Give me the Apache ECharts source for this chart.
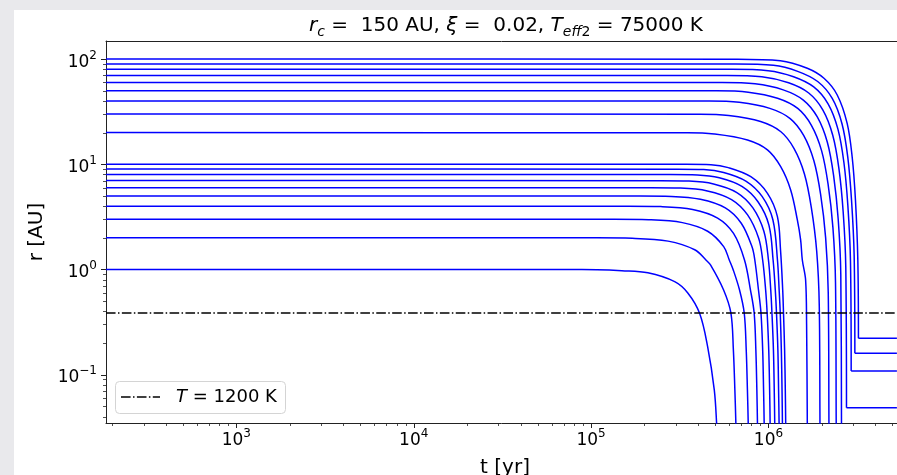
<!DOCTYPE html>
<html><head><meta charset="utf-8">
<script src="https://cdn.jsdelivr.net/npm/echarts@6/dist/echarts.min.js"></script>
<style>html,body{margin:0;padding:0;background:#e9e9ec}#c{width:897px;height:475px}</style>
</head><body><div id="c"></div>
<script>
// ---- data: r [AU] vs t [yr], one track per initial radius ----
const initialRadii = [1,2,3,4,5,6,7,8,9,10,20,30,40,50,60,70,80,90,100];
const curveR1 = [[184,1],[7.3e4,0.998],[1.08e5,0.995],[1.49e5,0.975],[2.09e5,0.93],[2.96e5,0.766],[3.51e5,0.598],[4.09e5,0.383],[4.54e5,0.185],[4.95e5,0.0716],[5.10e5,0.0348],[5.13e5,0.025]];
const curveR2 = [[184,2],[1.07e5,1.998],[1.706e5,1.98],[2.718e5,1.86],[3.839e5,1.54],[4.443e5,1.231],[4.722e5,1.10],[5.587e5,0.638],[6.14e5,0.386],[6.342e5,0.172],[6.466e5,0.0715],[6.55e5,0.0347],[6.57e5,0.025]];
const curveR3 = [[184,3],[1.341e5,2.997],[2.109e5,2.97],[3.274e5,2.79],[4.542e5,2.31],[5.593e5,1.65],[6.014e5,1.231],[6.333e5,0.99],[6.871e5,0.638],[7.302e5,0.386],[7.494e5,0.172],[7.611e5,0.0715],[7.69e5,0.0347],[7.71e5,0.025]];
const curveR4 = [[184,4],[1.613e5,3.996],[2.472e5,3.96],[3.739e5,3.72],[5.168e5,3.08],[6.356e5,2.2],[7.328e5,1.231],[7.919e5,0.638],[8.307e5,0.386],[8.492e5,0.172],[8.603e5,0.0715],[8.67e5,0.0347],[8.69e5,0.025]];
const curveR5 = [[184,5],[1.878e5,4.995],[2.841e5,4.95],[4.134e5,4.65],[5.712e5,3.85],[7.025e5,2.75],[8.069e5,1.65],[8.377e5,1.231],[8.787e5,0.638],[9.076e5,0.386],[9.278e5,0.172],[9.387e5,0.0715],[9.46e5,0.0347],[9.48e5,0.025]];
const curveR6 = [[184,6],[2.164e5,5.994],[3.191e5,5.94],[4.524e5,5.58],[6.194e5,4.62],[7.629e5,3.3],[8.808e5,1.98],[9.276e5,1.231],[9.642e5,0.638],[9.831e5,0.386],[1.0037e6,0.172],[1.0155e6,0.0715],[1.022e6,0.0347],[1.024e6,0.025]];
const curveR7 = [[184,7],[2.451e5,6.993],[3.566e5,6.93],[4.903e5,6.51],[6.636e5,5.39],[8.173e5,3.85],[9.423e5,2.31],[1.0001e6,1.231],[1.0303e6,0.638],[1.0465e6,0.386],[1.0669e6,0.172],[1.0781e6,0.0715],[1.085e6,0.0347],[1.087e6,0.025]];
const curveR8 = [[184,8],[2.767e5,7.992],[3.974e5,7.92],[5.283e5,7.44],[7.085e5,6.16],[8.728e5,4.4],[1.006e6,2.64],[1.0622e6,1.231],[1.0929e6,0.638],[1.110e6,0.386],[1.1303e6,0.172],[1.1407e6,0.0715],[1.148e6,0.0347],[1.150e6,0.025]];
const curveR9 = [[184,9],[3.083e5,8.991],[4.315e5,8.91],[5.59e5,8.37],[7.459e5,6.93],[9.207e5,4.95],[1.0591e6,2.97],[1.1239e6,1.231],[1.1489e6,0.638],[1.1653e6,0.386],[1.1821e6,0.172],[1.1928e6,0.0715],[1.199e6,0.0347],[1.201e6,0.025]];
const curveR10 = [[184,10],[3.431e5,9.99],[4.741e5,9.9],[5.939e5,9.3],[7.955e5,7.62],[9.873e5,5.30],[1.1235e6,3.18],[1.1697e6,1.53],[1.2033e6,0.638],[1.2158e6,0.386],[1.2334e6,0.172],[1.2445e6,0.0715],[1.251e6,0.0347],[1.253e6,0.025]];
const curveR20 = [[184,20],[3.506e5,19.97],[4.953e5,19.4],[7.621e5,17.0],[9.871e5,13.7],[1.1723e6,9.49],[1.3344e6,5.70],[1.4551e6,2.96],[1.5186e6,1.91],[1.5523e6,1.231],[1.620e6,0.795],[1.641e6,0.3],[1.656e6,0.0347],[1.658e6,0.025]];
const curveR30 = [[184,30],[4.132e5,29.97],[5.969e5,29.1],[9.03e5,25.5],[1.1755e6,20.4],[1.3947e6,14.1],[1.5954e6,8.1],[1.7441e6,3.9],[1.8704e6,1.5],[1.9344e6,0.45],[1.952e6,0.0347],[1.954e6,0.025]];
const curveR40 = [[184,40],[4.643e5,39.96],[6.847e5,38.8],[1.0184e6,34],[1.3259e6,27.2],[1.5792e6,18.8],[1.8037e6,10.8],[1.9673e6,5.2],[2.1013e6,2.0],[2.1733e6,0.6],[2.193e6,0.0347],[2.195e6,0.025]];
const curveR50 = [[184,50],[5.102e5,49.95],[7.69e5,48.5],[1.125e6,42.5],[1.4626e6,34],[1.7465e6,23.5],[1.9928e6,13.5],[2.1676e6,6.5],[2.3093e6,2.5],[2.3883e6,0.75],[2.410e6,0.0347],[2.412e6,0.025]];
const curveR60 = [[184,60],[5.464e5,59.94],[8.409e5,58.2],[1.211e6,51],[1.5726e6,40.8],[1.8852e6,28.2],[2.1479e6,16.2],[2.3304e6,7.8],[2.4731e6,3.0],[2.5578e6,0.9],[2.581e6,0.0347],[2.583e6,0.025]];
const curveR70 = [[184,70],[5.83e5,69.93],[9.174e5,67.9],[1.2991e6,59.5],[1.6868e6,47.6],[2.0245e6,32.9],[2.304e6,18.9],[2.4965e6,9.1],[2.6389e6,3.5],[2.7292e6,1.05],[2.754e6,0.0486],[5.3e6,0.0486]];
const curveR80 = [[184,80],[6.197e5,79.92],[9.964e5,77.6],[1.3859e6,68],[1.7998e6,54.4],[2.1686e6,37.6],[2.4642e6,21.6],[2.6633e6,10.4],[2.8047e6,4.0],[2.9007e6,1.2],[2.927e6,0.1084],[5.3e6,0.1084]];
const curveR90 = [[184,90],[6.499e5,89.91],[1.0668e6,87.3],[1.4613e6,76.5],[1.8948e6,61.2],[2.289e6,42.3],[2.5981e6,24.3],[2.8005e6,11.7],[2.9417e6,4.5],[3.0424e6,1.35],[3.07e6,0.1598],[5.3e6,0.1598]];
const curveR100 = [[184,100],[6.696e5,99.9],[1.168e6,96.6],[1.656e6,81.8],[2.056e6,65.7],[2.442e6,45.6],[2.778e6,24.5],[2.964e6,11.8],[3.094e6,4.58],[3.191e6,1.231],[3.216e6,0.222],[5.3e6,0.222]];
const tempLine = [[184,0.386],[5.3e6,0.386]];   // T = 1200 K
const xMajorTicks = [1e3,1e4,1e5,1e6];
const xMinorTicks = [200,300,400,500,600,700,800,900,2e3,3e3,4e3,5e3,6e3,7e3,8e3,9e3,2e4,3e4,4e4,5e4,6e4,7e4,8e4,9e4,2e5,3e5,4e5,5e5,6e5,7e5,8e5,9e5,2e6,3e6,4e6,5e6];
const yMajorTicks = [0.1,1,10,100];
const yMinorTicks = [0.04,0.05,0.06,0.07,0.08,0.09,0.2,0.3,0.4,0.5,0.6,0.7,0.8,0.9,2,3,4,5,6,7,8,9,20,30,40,50,60,70,80,90];
const xRange = [184.1, 5.306e6];
const yRange = [0.03473, 148.6];

const curves = [curveR1,curveR2,curveR3,curveR4,curveR5,curveR6,curveR7,curveR8,curveR9,curveR10,
  curveR20,curveR30,curveR40,curveR50,curveR60,curveR70,curveR80,curveR90,curveR100];

const FONT = 'DejaVu Sans';
const INK = '#222';
const BLUE = '#0000ff';
const DASHDOT = [9.6,2.4,1.5,2.4];

function tickSeries(values, axis, len, w) {
  return {
    type: 'custom', silent: true, clip: false, z: 6, animation: false,
    data: values.map(v => axis === 'x' ? [v, 1] : [1000, v]),
    encode: {x: 0, y: 1},
    renderItem: (params, api) => {
      const cs = params.coordSys;
      const p = api.coord([api.value(0), api.value(1)]);
      if (axis === 'x') {
        const x = Math.round(p[0]) + 0.5, y0 = cs.y + cs.height;
        return {type: 'line', shape: {x1: x, y1: y0, x2: x, y2: y0 + len}, style: {stroke: INK, lineWidth: w}};
      }
      const y = Math.round(p[1]) + 0.5, x0 = cs.x;
      return {type: 'line', shape: {x1: x0 - len, y1: y, x2: x0, y2: y}, style: {stroke: INK, lineWidth: w}};
    }
  };
}

function powLabel(v) {
  const e = Math.log10(v), n = Math.round(e);
  if (Math.abs(e - n) > 1e-6) return '';
  return '{b|10}{s|' + (n < 0 ? '\u2212' + (-n) : n) + '}';
}
const labelRich = {
  b: {fontSize: 17, fontFamily: FONT, color: '#000', verticalAlign: 'bottom', lineHeight: 20},
  s: {fontSize: 12, fontFamily: FONT, color: '#000', verticalAlign: 'bottom', lineHeight: 12, padding: [0,0,9,0]}
};

const series = [];
curves.forEach(c => {
  const n = c.length;
  const hasPlateau = c[n - 1][1] === c[n - 2][1];
  const main = hasPlateau ? c.slice(0, n - 1) : c;
  series.push({type: 'line', data: main, symbol: 'none', showSymbol: false, animation: false, z: 3,
    smooth: 0.35, lineStyle: {color: BLUE, width: 1.5}});
  if (hasPlateau) {
    series.push({type: 'line', data: c.slice(n - 2), symbol: 'none', showSymbol: false, animation: false, z: 3,
      lineStyle: {color: BLUE, width: 1.5}});
  }
});
series.push({type: 'line', data: tempLine, symbol: 'none', animation: false, z: 4,
  lineStyle: {color: '#000', width: 1.5, type: DASHDOT}});
series.push(tickSeries(xMajorTicks, 'x', 5, 1));
series.push(tickSeries(xMinorTicks, 'x', 3, 0.8));
series.push(tickSeries(yMajorTicks, 'y', 5, 1));
series.push(tickSeries(yMinorTicks, 'y', 3, 0.8));

const chart = echarts.init(document.getElementById('c'));
chart.setOption({
  backgroundColor: '#e9e9ec',
  animation: false,
  grid: {left: 106, top: 41, right: -3, bottom: 52, containLabel: false},
  xAxis: [{
    type: 'log', logBase: 10, min: xRange[0], max: xRange[1],
    axisLine: {show: true, onZero: false, lineStyle: {color: INK, width: 1}},
    axisTick: {show: false}, splitLine: {show: false}, minorTick: {show: false},
    axisLabel: {formatter: powLabel, rich: labelRich, margin: 6, showMinLabel: false, showMaxLabel: false}
  }, {
    type: 'log', logBase: 10, min: xRange[0], max: xRange[1], position: 'top',
    axisLine: {show: true, onZero: false, lineStyle: {color: INK, width: 1}},
    axisTick: {show: false}, axisLabel: {show: false}, splitLine: {show: false}
  }],
  yAxis: {
    type: 'log', logBase: 10, min: yRange[0], max: yRange[1],
    axisLine: {show: true, onZero: false, lineStyle: {color: INK, width: 1}},
    axisTick: {show: false}, splitLine: {show: false}, minorTick: {show: false},
    axisLabel: {formatter: powLabel, rich: labelRich, margin: 9, padding: [3,0,0,0], showMinLabel: false, showMaxLabel: false}
  },
  graphic: [
    {type: 'rect', z: -10, silent: true, shape: {x: 14, y: 10, width: 900, height: 480}, style: {fill: '#ffffff'}},
    {type: 'text', z: 50, x: 506, y: 28, style: {
      text: '{i|r}{is|c}{n| =  150 AU, }{i|\u03be}{n| =  0.02, }{i|T}{is|eff}{ss|2}{n| = 75000 K}',
      align: 'center', verticalAlign: 'middle',
      rich: {
        n: {fontSize: 20, fontFamily: FONT, fill: '#000', verticalAlign: 'bottom', lineHeight: 23, padding: [0,0,4,0]},
        i: {fontSize: 20, fontFamily: FONT, fontStyle: 'italic', fill: '#000', verticalAlign: 'bottom', lineHeight: 23, padding: [0,0,4,0]},
        is: {fontSize: 14, fontFamily: FONT, fontStyle: 'italic', fill: '#000', verticalAlign: 'bottom', lineHeight: 16},
        ss: {fontSize: 14, fontFamily: FONT, fill: '#000', verticalAlign: 'bottom', lineHeight: 16}
      }}},
    {type: 'text', z: 50, x: 37, y: 232, rotation: Math.PI / 2, style: {
      text: 'r [AU]', font: '20px "DejaVu Sans"', fill: '#000', align: 'center', verticalAlign: 'middle'}},
    {type: 'text', z: 50, x: 505, y: 468, style: {
      text: 't [yr]', font: '20px "DejaVu Sans"', fill: '#000', align: 'center', verticalAlign: 'middle'}},
    {type: 'rect', z: 50, shape: {x: 115.5, y: 381.5, width: 170, height: 32, r: 4},
      style: {fill: 'rgba(255,255,255,0.85)', stroke: '#d4d4d4', lineWidth: 1}},
    {type: 'polyline', z: 51, shape: {points: [[121, 397], [160, 397]]},
      style: {stroke: '#000', lineWidth: 1.5, lineDash: DASHDOT, fill: null}},
    {type: 'text', z: 51, x: 176, y: 397, style: {
      text: '{i|T}{n| = 1200 K}', align: 'left', verticalAlign: 'middle',
      rich: {
        i: {fontSize: 18, fontFamily: FONT, fontStyle: 'italic', fill: '#000'},
        n: {fontSize: 18, fontFamily: FONT, fill: '#000'}
      }}}
  ],
  series: series
});
</script></body></html>
